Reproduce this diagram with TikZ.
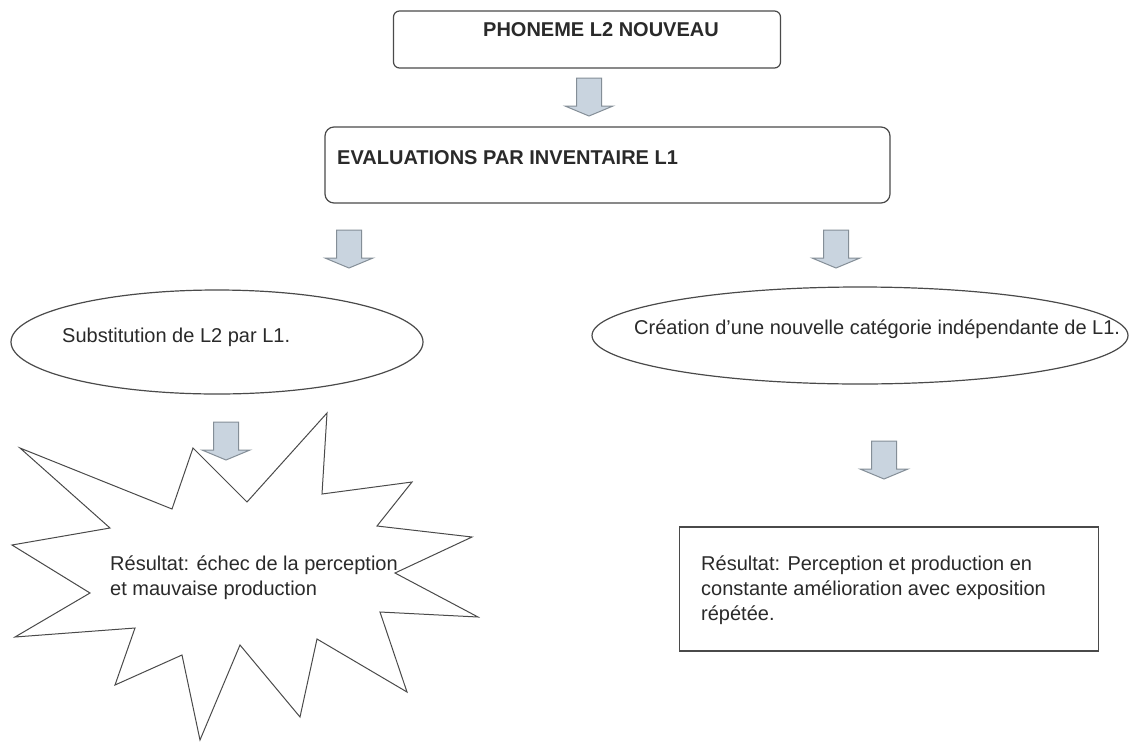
\documentclass[tikz,border=0pt]{standalone}
\usepackage{fontspec}
\setmainfont{Liberation Sans}
\usetikzlibrary{shapes.geometric}
\definecolor{linegray}{HTML}{4A4A4A}
\definecolor{txtgray}{HTML}{2A2A2A}
\definecolor{arrowfill}{HTML}{C9D4DF}
\definecolor{arrowline}{HTML}{848E97}
\tikzset{
  every node/.style={font=\fontsize{20}{25}\selectfont, text=txtgray, inner sep=0pt},
  frame/.style={draw=linegray, line width=1.2pt},
  lbl/.style={anchor=base west, align=left},
  blockarrow/.pic={
    \draw[fill=arrowfill, draw=arrowline, line width=1pt, line join=miter]
      (-12.5,0) -- (12.5,0) -- (12.5,28) -- (24,28) -- (0,38) -- (-24,28) -- (-12.5,28) -- cycle;
  }
}
\begin{document}
\begin{tikzpicture}[x=1pt, y=-1pt]
\useasboundingbox[fill=white] (0,0) rectangle (1129,742);

% boxes
\node[frame, rounded corners=6pt, minimum width=387pt, minimum height=57pt] (phon) at (587,39.5) {};
\node[lbl, font=\fontsize{20}{25}\selectfont\bfseries] (phont) at (483,36) {PHONEME L2 NOUVEAU};

\node[frame, rounded corners=9pt, minimum width=565pt, minimum height=76pt] (eval) at (607.5,165) {};
\node[lbl, font=\fontsize{20}{25}\selectfont\bfseries] (evalt) at (337,164) {EVALUATIONS PAR INVENTAIRE L1};

% ellipses
\node[frame, ellipse, minimum width=412pt, minimum height=104pt] (subst) at (217,342) {};
\node[lbl] (substt) at (62,342) {Substitution de L2 par L1.};

\node[frame, ellipse, minimum width=536pt, minimum height=97pt] (creat) at (860,335.5) {};
\node[lbl] (creatt) at (634,334) {Création d’une nouvelle catégorie indépendante de L1.};

% star
\draw[frame, line width=1pt, line join=miter]
  (20,448) -- (172,509) -- (193,448) -- (247,502) -- (327,413) -- (322,494)
  -- (412,482) -- (377,526) -- (472,537) -- (395,573) -- (478,617) -- (380,612)
  -- (407,692) -- (317,639) -- (300,717) -- (240,645) -- (200,740) -- (182,655)
  -- (115,685) -- (135,628) -- (15,637) -- (90,593) -- (12,545) -- (110,528) -- cycle;
\node[lbl] (echec) at (110,595) {Résultat: échec de la perception\\et mauvaise production};

% right result box
\node[frame, line width=1.4pt, minimum width=419pt, minimum height=124pt] (amel) at (889,589) {};
\node[lbl] (amelt) at (701,620) {Résultat: Perception et production en\\constante amélioration avec exposition\\répétée.};

% block arrows
\pic at (589,78) {blockarrow};
\pic at (349,230) {blockarrow};
\pic at (836,230) {blockarrow};
\pic at (226,422) {blockarrow};
\pic at (884,441) {blockarrow};
\end{tikzpicture}
\end{document}
